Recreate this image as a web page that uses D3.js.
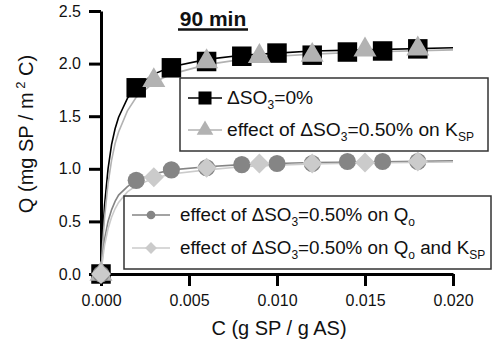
<!DOCTYPE html>
<html><head><meta charset="utf-8">
<script src="https://cdn.jsdelivr.net/npm/d3@7"></script>
<style>
html,body{margin:0;padding:0;background:#fff;}
svg{display:block;font-family:"Liberation Sans",Arial,sans-serif;}
</style></head><body>
<svg id="c" width="494" height="348"></svg>
<script>
// ---- data ----
const squareC = [0, 0.002, 0.004, 0.006, 0.008, 0.010, 0.012, 0.014, 0.016, 0.018];
const squareQ = [0, 1.77, 1.96, 2.02, 2.07, 2.10, 2.08, 2.11, 2.12, 2.14];
const triC = [0, 0.003, 0.006, 0.009, 0.012, 0.015, 0.018];
const triQ = [0, 1.84, 2.02, 2.07, 2.08, 2.13, 2.14];
const circC = [0, 0.002, 0.004, 0.006, 0.008, 0.010, 0.012, 0.014, 0.016, 0.018];
const circQ = [0, 0.89, 0.99, 1.01, 1.04, 1.05, 1.05, 1.07, 1.07, 1.07];
const diaC = [0, 0.003, 0.006, 0.009, 0.012, 0.015, 0.018];
const diaQ = [0, 0.92, 1.01, 1.05, 1.05, 1.06, 1.07];
// fitted curves
const curveC = [0, 0.0001, 0.0002, 0.0004, 0.0006, 0.0008, 0.001, 0.0015, 0.002, 0.003, 0.004, 0.006, 0.008, 0.010, 0.012, 0.015, 0.020];
const curveSquareQ = [0, 0.38, 0.65, 1.00, 1.23, 1.38, 1.49, 1.67, 1.78, 1.90, 1.97, 2.04, 2.08, 2.10, 2.12, 2.13, 2.15];
const curveTriQ = [0, 0.30, 0.53, 0.86, 1.08, 1.24, 1.35, 1.55, 1.68, 1.82, 1.90, 1.99, 2.04, 2.07, 2.09, 2.11, 2.13];
const curveCircQ = [0, 0.19, 0.33, 0.50, 0.61, 0.69, 0.75, 0.83, 0.89, 0.95, 0.99, 1.02, 1.04, 1.05, 1.06, 1.065, 1.075];
const curveDiaQ = [0, 0.15, 0.27, 0.43, 0.54, 0.62, 0.68, 0.78, 0.84, 0.91, 0.95, 0.99, 1.02, 1.035, 1.045, 1.055, 1.065];
const xTicks = [0, 0.005, 0.010, 0.015, 0.020];
const yTicks = [0, 0.5, 1.0, 1.5, 2.0, 2.5];
const title = "90 min";

// ---- chart ----
const svg = d3.select("#c");
const x = d3.scaleLinear().domain([0, 0.02]).range([101, 453]);
const y = d3.scaleLinear().domain([0, 2.5]).range([274, 11]);

const cBlack = "#000", cTri = "#b2b2b2", cCirc = "#858585", cDia = "#cbcbcb";

// axes
const xAxis = d3.axisBottom(x).tickValues(xTicks).tickFormat(d3.format(".3f")).tickSize(12).tickSizeOuter(0).tickPadding(9);
const yAxis = d3.axisLeft(y).tickValues(yTicks).tickFormat(d3.format(".1f")).tickSize(12).tickSizeOuter(0).tickPadding(8);
const gx = svg.append("g").attr("transform", "translate(0,274)").call(xAxis);
const gy = svg.append("g").attr("transform", "translate(101,0)").call(yAxis);
[gx, gy].forEach(g => {
  g.select(".domain").attr("stroke", "#000").attr("stroke-width", 3);
  g.selectAll(".tick line").attr("stroke", "#000").attr("stroke-width", 3);
  g.selectAll(".tick text").attr("font-family", "Liberation Sans, Arial, sans-serif").attr("font-size", 16).attr("fill", "#111");
});

// axis titles
svg.append("text").attr("x", 279).attr("y", 335).attr("text-anchor", "middle")
  .attr("font-size", 20).attr("fill", "#111").text("C (g SP / g AS)");
const yl = svg.append("text").attr("transform", "translate(33,134) rotate(-90)").attr("text-anchor", "middle")
  .attr("font-size", 20).attr("fill", "#111");
yl.append("tspan").text("Q (mg SP / m");
yl.append("tspan").attr("dy", -8).attr("font-size", 13).text(" 2");
yl.append("tspan").attr("dy", 8).text(" C)");

// title
svg.append("text").attr("x", 213).attr("y", 26).attr("text-anchor", "middle")
  .attr("font-size", 21).attr("font-weight", "bold").attr("fill", "#111").text(title);
svg.append("line").attr("x1", 178).attr("x2", 248).attr("y1", 29.5).attr("y2", 29.5).attr("stroke", "#111").attr("stroke-width", 2.5);

// curves
const line = d3.line().x(d => x(d[0])).y(d => y(d[1]));
function curve(Q, col) {
  svg.append("path").datum(curveC.map((c, i) => [c, Q[i]])).attr("d", line)
    .attr("fill", "none").attr("stroke", col).attr("stroke-width", 1.6);
}
curve(curveSquareQ, cBlack);
curve(curveTriQ, cTri);
curve(curveCircQ, cCirc);
curve(curveDiaQ, cDia);

// markers
const sym = (type, size) => d3.symbol().type(type).size(size);
function markers(C, Q, type, size, col) {
  svg.append("g").selectAll("path").data(C.map((c, i) => [c, Q[i]])).join("path")
    .attr("d", sym(type, size))
    .attr("transform", d => `translate(${x(d[0])},${y(d[1])})`)
    .attr("fill", col);
}
const diamondType = { draw(ctx, size) { const r = Math.sqrt(size / 2); ctx.moveTo(0, -r); ctx.lineTo(r, 0); ctx.lineTo(0, r); ctx.lineTo(-r, 0); ctx.closePath(); } };
markers(squareC, squareQ, d3.symbolSquare, 380, cBlack);
markers(triC, triQ, d3.symbolTriangle, 230, cTri);
markers(circC, circQ, d3.symbolCircle, 230, cCirc);
markers(diaC, diaQ, diamondType, 200, cDia);

// legends
function legendText(g, xx, yy, parts, fs) {
  const t = g.append("text").attr("x", xx).attr("y", yy).attr("font-size", fs).attr("fill", "#111");
  parts.forEach(p => {
    const s = t.append("tspan").text(p[0]);
    if (p[1] === "sub") s.attr("dy", 5).attr("font-size", 12);
    if (p[1] === "up") s.attr("dy", -5);
  });
}
const L1 = svg.append("g");
L1.append("rect").attr("x", 180).attr("y", 78).attr("width", 308).attr("height", 73)
  .attr("fill", "#fff").attr("stroke", "#333").attr("stroke-width", 1.5);
L1.append("line").attr("x1", 188).attr("x2", 222).attr("y1", 98).attr("y2", 98).attr("stroke", cBlack).attr("stroke-width", 1.6);
L1.append("path").attr("d", sym(d3.symbolSquare, 170)).attr("transform", "translate(205,98)").attr("fill", cBlack);
legendText(L1, 227, 104, [["ΔSO"], ["3", "sub"], ["=0%", "up"]], 19.2);
L1.append("line").attr("x1", 188).attr("x2", 222).attr("y1", 130).attr("y2", 130).attr("stroke", cTri).attr("stroke-width", 1.6);
L1.append("path").attr("d", sym(d3.symbolTriangle, 120)).attr("transform", "translate(205,130)").attr("fill", cTri);
legendText(L1, 227, 136, [["effect of ΔSO"], ["3", "sub"], ["=0.50% on K", "up"], ["SP", "sub"]], 19.2);

const L2 = svg.append("g");
L2.append("rect").attr("x", 124).attr("y", 196).attr("width", 367).attr("height", 73)
  .attr("fill", "#fff").attr("stroke", "#333").attr("stroke-width", 1.5);
L2.append("line").attr("x1", 132).attr("x2", 170).attr("y1", 215).attr("y2", 215).attr("stroke", cCirc).attr("stroke-width", 1.6);
L2.append("path").attr("d", sym(d3.symbolCircle, 60)).attr("transform", "translate(151,215)").attr("fill", cCirc);
legendText(L2, 180, 221, [["effect of ΔSO"], ["3", "sub"], ["=0.50% on Q", "up"], ["o", "sub"]], 18.8);
L2.append("line").attr("x1", 132).attr("x2", 170).attr("y1", 248).attr("y2", 248).attr("stroke", cDia).attr("stroke-width", 1.6);
L2.append("path").attr("d", sym(diamondType, 70)).attr("transform", "translate(151,248)").attr("fill", cDia);
legendText(L2, 180, 254, [["effect of ΔSO"], ["3", "sub"], ["=0.50% on Q", "up"], ["o", "sub"], [" and K", "up"], ["SP", "sub"]], 18.8);
</script>
</body></html>
